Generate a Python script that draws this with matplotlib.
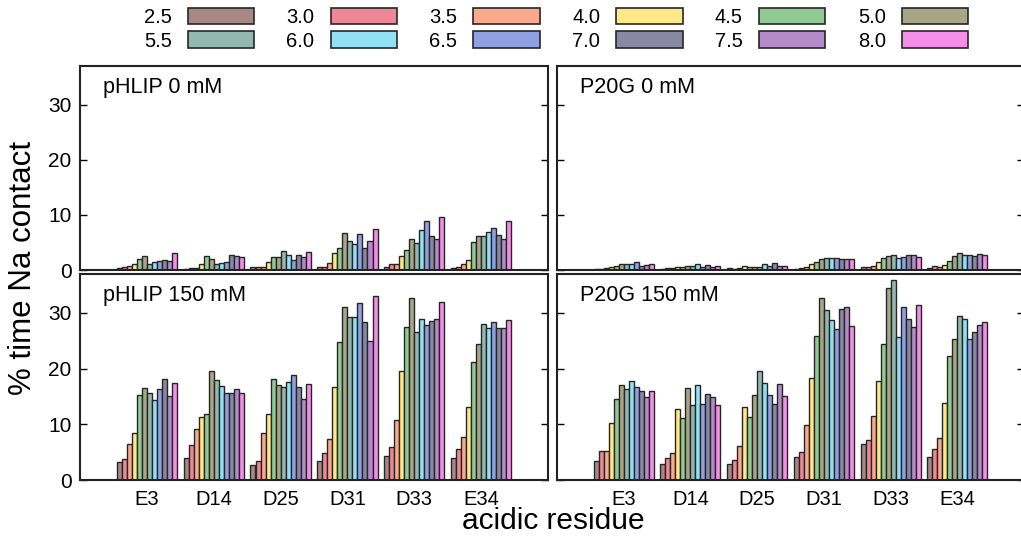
import numpy as np
import matplotlib
matplotlib.use("Agg")
import matplotlib.pyplot as plt
from matplotlib.patches import Patch

# residues on the x axis and the pH values shown as bars within each group
residues = ["E3", "D14", "D25", "D31", "D33", "E34"]
ph_labels = ["2.5", "3.0", "3.5", "4.0", "4.5", "5.0",
             "5.5", "6.0", "6.5", "7.0", "7.5", "8.0"]
ph_colors = ["#A88884", "#EE8896", "#FAAA8C", "#FFE888", "#92CA94", "#A8A686",
             "#92B8B0", "#92E0F4", "#90A0E0", "#8888A4", "#B48AC8", "#F48EE8"]

# % of simulation time each residue spends in contact with Na+
# (one row per residue, one value per pH, in the order of ph_labels)
phlip_0mm = [
    [0.3, 0.5, 0.8, 1.0, 2.0, 2.5, 1.0, 1.4, 1.6, 1.9, 1.6, 3.0],
    [0.2, 0.3, 0.4, 1.1, 2.5, 2.0, 1.0, 1.3, 1.5, 2.8, 2.5, 2.3],
    [0.5, 0.5, 0.6, 1.4, 2.4, 2.4, 3.4, 2.8, 1.8, 2.8, 2.4, 3.3],
    [0.5, 0.6, 1.3, 3.0, 4.0, 6.8, 5.2, 4.8, 6.6, 4.0, 5.2, 7.4],
    [0.5, 1.0, 1.1, 2.6, 3.6, 5.7, 4.9, 7.3, 8.8, 6.2, 5.7, 9.6],
    [0.4, 0.5, 1.0, 1.9, 5.0, 6.1, 6.1, 6.9, 7.7, 6.3, 5.6, 8.8],
]
phlip_150mm = [
    [3.3, 3.7, 6.4, 8.4, 15.2, 16.5, 15.7, 14.3, 16.3, 18.1, 15.0, 17.5],
    [3.9, 6.2, 9.1, 11.4, 11.9, 19.6, 18.0, 16.9, 15.6, 15.6, 16.4, 15.6],
    [2.7, 3.5, 8.4, 11.8, 18.2, 17.0, 16.7, 17.6, 18.9, 16.7, 14.6, 17.2],
    [3.5, 4.9, 7.3, 16.7, 24.7, 31.1, 29.3, 29.2, 31.8, 28.4, 24.9, 33.1],
    [4.3, 5.9, 10.7, 19.5, 27.5, 32.6, 26.5, 29.0, 27.8, 28.6, 29.0, 32.0],
    [3.9, 5.5, 7.8, 13.2, 21.2, 24.5, 28.1, 27.3, 28.3, 27.3, 27.3, 28.8],
]
p20g_0mm = [
    [0.1, 0.2, 0.3, 0.5, 0.8, 1.1, 1.0, 1.0, 1.4, 0.7, 0.9, 1.0],
    [0.1, 0.3, 0.4, 0.6, 0.6, 0.8, 0.7, 1.0, 0.6, 0.9, 0.5, 0.7],
    [0.3, 0.2, 0.4, 0.8, 0.6, 0.6, 0.6, 1.0, 0.8, 1.3, 0.7, 0.7],
    [0.2, 0.3, 0.5, 1.1, 1.5, 2.0, 2.2, 2.1, 2.2, 2.0, 2.0, 2.0],
    [0.5, 0.6, 0.7, 1.4, 2.2, 2.6, 2.8, 2.2, 2.4, 2.7, 2.7, 2.3],
    [0.3, 0.8, 0.6, 0.9, 1.6, 2.5, 3.0, 2.7, 2.7, 2.5, 2.9, 2.7],
]
p20g_150mm = [
    [3.4, 5.2, 5.2, 10.2, 14.5, 17.1, 16.4, 17.8, 16.7, 15.9, 14.9, 16.0],
    [2.8, 3.9, 4.8, 12.8, 11.1, 16.5, 13.4, 17.1, 13.7, 15.5, 14.9, 13.4],
    [2.8, 3.6, 6.1, 13.1, 11.4, 15.3, 19.5, 17.5, 15.3, 13.7, 17.3, 15.1],
    [4.2, 5.1, 9.8, 18.4, 25.8, 32.7, 30.6, 28.7, 27.1, 30.7, 31.0, 27.7],
    [6.4, 7.2, 11.5, 17.8, 24.5, 34.5, 35.9, 25.7, 31.0, 28.9, 27.4, 31.4],
    [4.1, 5.5, 7.5, 13.8, 22.3, 25.4, 29.4, 29.0, 25.4, 26.5, 27.8, 28.4],
]

plt.rcParams["font.family"] = "Liberation Sans"

W, H = 1021, 537
fig = plt.figure(figsize=(W / 100, H / 100), dpi=100)


def frac(x0, x1, y_top, y_bot):
    return [x0 / W, 1 - y_bot / H, (x1 - x0) / W, (y_bot - y_top) / H]


panels = [
    (frac(80, 548, 66, 270), phlip_0mm, "pHLIP 0 mM", True, False),
    (frac(557, 1024, 66, 270), p20g_0mm, "P20G 0 mM", False, False),
    (frac(80, 548, 274, 480), phlip_150mm, "pHLIP 150 mM", True, True),
    (frac(557, 1024, 274, 480), p20g_150mm, "P20G 150 mM", False, True),
]

n_ph = len(ph_labels)
bar_w = 0.9 / n_ph
x = np.arange(len(residues))
offsets = (np.arange(n_ph) - (n_ph - 1) / 2) * bar_w

for rect, data, title, show_y, show_x in panels:
    ax = fig.add_axes(rect)
    vals = np.asarray(data)
    for i in range(n_ph):
        ax.bar(x + offsets[i], vals[:, i], bar_w, color=ph_colors[i],
               edgecolor="#262626", linewidth=1.0)
    ax.set_xlim(-1, 6)
    ax.set_ylim(0, 37)
    ax.set_yticks([0, 10, 20, 30])
    ax.set_xticks(x)
    ax.tick_params(axis="y", direction="in", length=5, width=1,
                   left=True, right=True, labelleft=show_y,
                   labelsize=15, pad=6)
    ax.tick_params(axis="x", length=0, labelbottom=show_x, pad=7)
    if show_x:
        ax.set_xticklabels(residues, fontsize=14.5)
    for sp in ax.spines.values():
        sp.set_linewidth(1.5)
        sp.set_color("#222222")
    ax.text(0.049, 0.895, title, transform=ax.transAxes, fontsize=15.5,
            ha="left", va="center")

fig.text(23 / W, 1 - 268 / H, "% time Na contact", rotation=90,
         fontsize=22.5, ha="center", va="center")
fig.text(553 / W, 1 - 521 / H, "acidic residue",
         fontsize=21.5, ha="center", va="center")

# row-wise order: matplotlib fills legend columns first
order = [0, 6, 1, 7, 2, 8, 3, 9, 4, 10, 5, 11]
handles = [Patch(facecolor=ph_colors[k], edgecolor="#262626", linewidth=1.2)
           for k in order]
labels = [ph_labels[k] for k in order]
fig.legend(handles, labels, loc="upper center", bbox_to_anchor=(556 / W, 1.012),
           ncol=6, frameon=False, markerfirst=False, handlelength=3.3,
           handleheight=0.9, columnspacing=1.6, handletextpad=0.8,
           labelspacing=0.22, borderpad=0.2,
           prop={"size": 14.5})

fig.savefig("out.png", dpi=100)
